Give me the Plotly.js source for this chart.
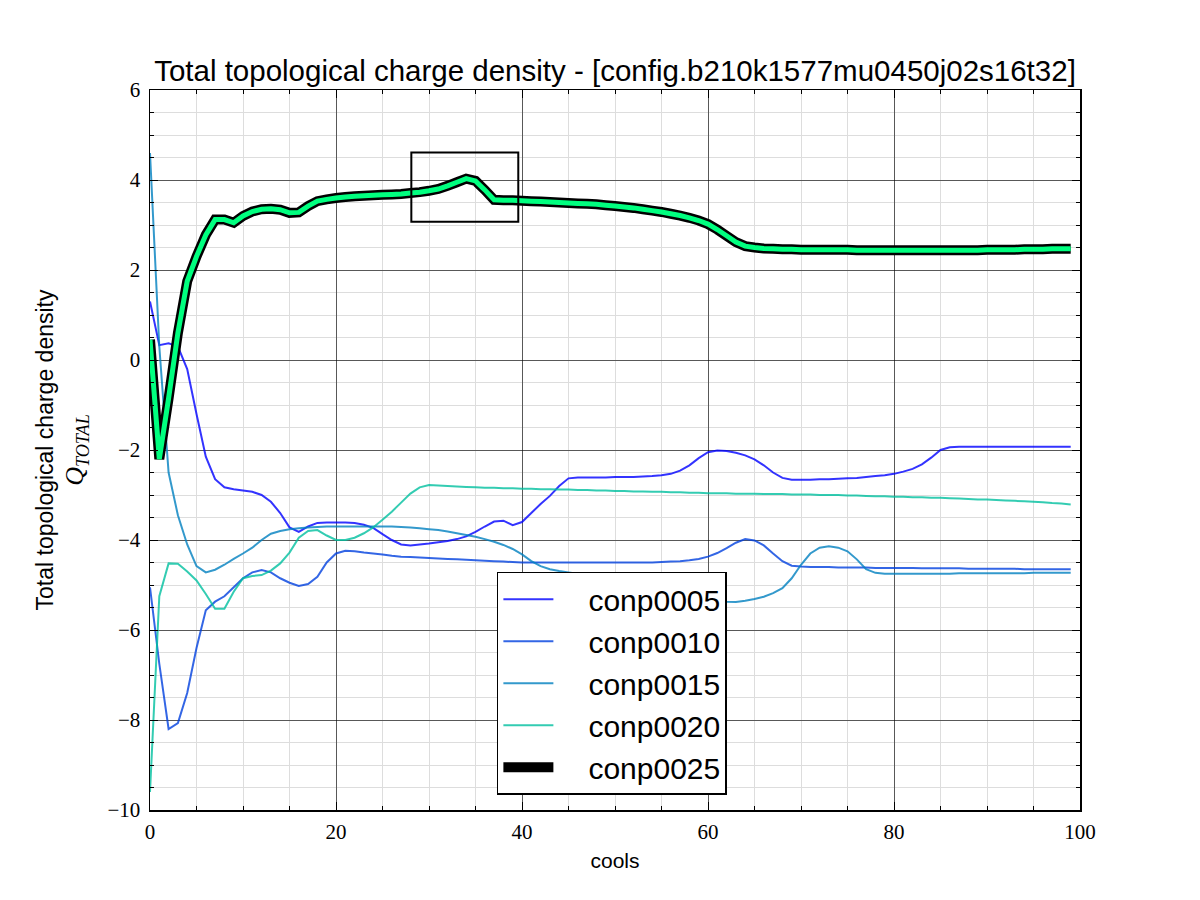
<!DOCTYPE html>
<html>
<head>
<meta charset="utf-8">
<script src="https://cdn.plot.ly/plotly-3.0.1.min.js"></script>
<style>html,body{margin:0;padding:0;background:#fff;}#chart{width:1200px;height:900px;}</style>
</head>
<body>
<div id="chart"></div>
<script>
const cools = [0,1,2,3,4,5,6,7,8,9,10,11,12,13,14,15,16,17,18,19,20,21,22,23,24,25,26,27,28,29,30,31,32,33,34,35,36,37,38,39,40,41,42,43,44,45,46,47,48,49,50,51,52,53,54,55,56,57,58,59,60,61,62,63,64,65,66,67,68,69,70,71,72,73,74,75,76,77,78,79,80,81,82,83,84,85,86,87,88,89,90,91,92,93,94,95,96,97,98,99];

const seriesNames = ["conp0005","conp0010","conp0015","conp0020","conp0025"];

const conp0005 = [1.30,0.33,0.37,0.30,-0.20,-1.20,-2.15,-2.65,-2.83,-2.87,
-2.90,-2.93,-3.00,-3.15,-3.40,-3.72,-3.82,-3.70,-3.62,-3.61,
-3.61,-3.61,-3.62,-3.66,-3.73,-3.87,-4.00,-4.10,-4.12,-4.10,
-4.08,-4.05,-4.02,-3.98,-3.92,-3.82,-3.70,-3.59,-3.57,-3.67,
-3.60,-3.40,-3.20,-3.02,-2.80,-2.63,-2.61,-2.61,-2.61,-2.61,
-2.60,-2.60,-2.60,-2.59,-2.58,-2.56,-2.53,-2.46,-2.34,-2.18,
-2.05,-2.01,-2.02,-2.06,-2.12,-2.21,-2.34,-2.50,-2.62,-2.66,
-2.66,-2.66,-2.65,-2.65,-2.64,-2.63,-2.62,-2.60,-2.58,-2.56,
-2.53,-2.48,-2.42,-2.32,-2.17,-2.00,-1.94,-1.93,-1.93,-1.93,
-1.93,-1.93,-1.93,-1.93,-1.93,-1.93,-1.93,-1.93,-1.93,-1.93];

const conp0010 = [-5.05,-6.75,-8.20,-8.07,-7.40,-6.40,-5.56,-5.37,-5.25,-5.05,
-4.85,-4.72,-4.67,-4.72,-4.85,-4.95,-5.02,-4.98,-4.82,-4.50,
-4.30,-4.24,-4.25,-4.28,-4.30,-4.32,-4.35,-4.37,-4.38,-4.39,
-4.40,-4.41,-4.42,-4.43,-4.44,-4.45,-4.46,-4.47,-4.48,-4.49,
-4.50,-4.50,-4.50,-4.50,-4.50,-4.50,-4.50,-4.50,-4.50,-4.50,
-4.50,-4.50,-4.50,-4.50,-4.50,-4.49,-4.48,-4.47,-4.45,-4.42,
-4.37,-4.29,-4.18,-4.06,-3.98,-4.01,-4.12,-4.30,-4.47,-4.57,
-4.59,-4.60,-4.60,-4.60,-4.61,-4.61,-4.61,-4.61,-4.62,-4.62,
-4.62,-4.62,-4.62,-4.63,-4.63,-4.63,-4.63,-4.63,-4.64,-4.64,
-4.64,-4.64,-4.64,-4.64,-4.65,-4.65,-4.65,-4.65,-4.65,-4.65];

const conp0015 = [4.60,0.30,-2.50,-3.45,-4.10,-4.58,-4.72,-4.66,-4.55,-4.42,
-4.30,-4.17,-4.00,-3.86,-3.80,-3.76,-3.74,-3.72,-3.71,-3.70,
-3.70,-3.70,-3.70,-3.70,-3.70,-3.70,-3.70,-3.71,-3.72,-3.74,
-3.76,-3.78,-3.81,-3.85,-3.89,-3.93,-3.98,-4.04,-4.11,-4.20,
-4.32,-4.47,-4.58,-4.65,-4.69,-4.72,-4.75,-4.78,-4.82,-4.86,
-4.90,-4.94,-4.98,-5.02,-5.06,-5.10,-5.14,-5.18,-5.22,-5.26,
-5.30,-5.34,-5.37,-5.38,-5.35,-5.31,-5.26,-5.18,-5.07,-4.85,
-4.55,-4.30,-4.17,-4.14,-4.17,-4.25,-4.43,-4.65,-4.73,-4.75,
-4.75,-4.75,-4.75,-4.75,-4.75,-4.75,-4.75,-4.74,-4.74,-4.74,
-4.74,-4.74,-4.74,-4.74,-4.74,-4.73,-4.73,-4.73,-4.73,-4.73];

const conp0020 = [-9.60,-5.25,-4.52,-4.53,-4.70,-4.90,-5.20,-5.53,-5.53,-5.15,
-4.85,-4.80,-4.78,-4.68,-4.52,-4.28,-3.95,-3.80,-3.78,-3.90,
-4.00,-4.00,-3.95,-3.85,-3.72,-3.55,-3.37,-3.17,-2.97,-2.83,
-2.78,-2.79,-2.80,-2.81,-2.82,-2.83,-2.84,-2.84,-2.85,-2.85,
-2.86,-2.86,-2.87,-2.87,-2.88,-2.88,-2.89,-2.89,-2.90,-2.90,
-2.91,-2.91,-2.92,-2.92,-2.93,-2.93,-2.94,-2.94,-2.95,-2.95,
-2.96,-2.96,-2.96,-2.97,-2.97,-2.97,-2.98,-2.98,-2.98,-2.99,
-2.99,-2.99,-3.00,-3.00,-3.00,-3.01,-3.01,-3.02,-3.03,-3.03,
-3.04,-3.04,-3.05,-3.05,-3.06,-3.06,-3.07,-3.08,-3.09,-3.10,
-3.10,-3.11,-3.12,-3.13,-3.14,-3.15,-3.16,-3.18,-3.19,-3.21];

const conp0025 = [0.45,-2.20,-0.85,0.60,1.75,2.30,2.78,3.12,3.12,3.05,
3.20,3.30,3.35,3.36,3.34,3.27,3.28,3.42,3.53,3.57,
3.60,3.62,3.64,3.65,3.66,3.67,3.68,3.69,3.71,3.73,
3.76,3.80,3.87,3.95,4.03,3.98,3.78,3.56,3.55,3.55,
3.54,3.53,3.52,3.51,3.50,3.49,3.48,3.47,3.46,3.44,
3.42,3.40,3.38,3.35,3.32,3.29,3.25,3.21,3.16,3.10,
3.02,2.90,2.76,2.62,2.53,2.50,2.48,2.47,2.46,2.46,
2.45,2.45,2.45,2.45,2.45,2.45,2.44,2.44,2.44,2.44,
2.44,2.44,2.44,2.44,2.44,2.44,2.44,2.44,2.44,2.44,
2.45,2.45,2.45,2.45,2.46,2.46,2.46,2.47,2.47,2.47];

// highlight box around the peak (data coords)
const boxX = [28.1, 39.6];
const boxY = [3.07, 4.61];

const xTicks = [0,20,40,60,80,100];
const yTicks = [-10,-8,-6,-4,-2,0,2,4,6];

const colors = ["rgba(0,0,255,0.8)","rgba(0,64,223,0.8)","rgba(0,128,191,0.8)","rgba(0,191,159,0.8)"];
const thin = [conp0005, conp0010, conp0015, conp0020];
const sans = "Liberation Sans, Arial, sans-serif";

const traces = thin.map((ys, i) => ({
  x: cools, y: ys, type: "scatter", mode: "lines",
  name: "\u2003" + seriesNames[i], legendgroup: "g" + i,
  line: {color: colors[i], width: 2, simplify: false}
}));
traces.push({
  x: cools, y: conp0025, type: "scatter", mode: "lines",
  name: "\u2003" + seriesNames[4], legendgroup: "g4",
  line: {color: "#000000", width: 10, simplify: false}
});
traces.push({
  x: cools, y: conp0025, type: "scatter", mode: "lines",
  name: seriesNames[4], showlegend: false, legendgroup: "g4",
  line: {color: "#00ff7f", width: 5, simplify: false}
});

const tickFont = {family: "Liberation Serif, DejaVu Serif, serif", size: 21, color: "#000"};

const layout = {
  width: 1200, height: 900,
  paper_bgcolor: "#ffffff", plot_bgcolor: "#ffffff",
  margin: {l: 150, r: 120, t: 90, b: 90},
  showlegend: true,
  title: {
    text: "Total topological charge density - [config.b210k1577mu0450j02s16t32]",
    font: {family: sans, size: 29.5, color: "#000"},
    xref: "paper", x: 0.5, xanchor: "center",
    yref: "container", y: 0.922, yanchor: "middle"
  },
  xaxis: {
    range: [0, 100], tickvals: xTicks, ticktext: xTicks.map(String),
    ticks: "inside", ticklen: 8, tickwidth: 1, tickcolor: "#000",
    showline: true, linecolor: "#000", linewidth: 1.5, mirror: "allticks",
    showgrid: true, gridcolor: "rgba(0,0,0,0.6)", gridwidth: 1,
    zeroline: false, ticklabelstandoff: 2,
    tickfont: tickFont,
    minor: {dtick: 5, ticks: "inside", ticklen: 4, tickcolor: "#000", showgrid: true, gridcolor: "#dddddd", gridwidth: 1},
    title: {text: "cools", font: {family: sans, size: 21, color: "#000"}, standoff: 10}
  },
  yaxis: {
    range: [-10, 6], tickvals: yTicks, ticktext: yTicks.map(v => v < 0 ? "\u2212" + Math.abs(v) : String(v)),
    ticks: "inside", ticklen: 8, tickwidth: 1, tickcolor: "#000",
    showline: true, linecolor: "#000", linewidth: 1.5, mirror: "allticks",
    showgrid: true, gridcolor: "rgba(0,0,0,0.6)", gridwidth: 1,
    zeroline: false, ticklabelstandoff: 4,
    tickfont: tickFont,
    minor: {dtick: 0.5, ticks: "inside", ticklen: 4, tickcolor: "#000", showgrid: true, gridcolor: "#dddddd", gridwidth: 1},
    title: {
      text: "Total topological charge density<br><span style=\"font-family:'Liberation Serif',serif;font-style:italic;font-size:26px\">Q<sub>TOTAL</sub></span>",
      font: {family: sans, size: 23, color: "#000"},
      standoff: 17
    }
  },
  legend: {
    x: 0.373, y: 0.331, xanchor: "left", yanchor: "top",
    bgcolor: "#ffffff", bordercolor: "#000", borderwidth: 1.5,
    font: {family: sans, size: 30, color: "#000"},
    itemwidth: 50,
    traceorder: "grouped", tracegroupgap: 0
  },
  shapes: [{
    type: "rect", xref: "x", yref: "y",
    x0: boxX[0], x1: boxX[1], y0: boxY[0], y1: boxY[1],
    line: {color: "#000", width: 2}, fillcolor: "rgba(0,0,0,0)"
  }]
};

Plotly.newPlot("chart", traces, layout, {displayModeBar: false, staticPlot: true});
</script>
</body>
</html>
